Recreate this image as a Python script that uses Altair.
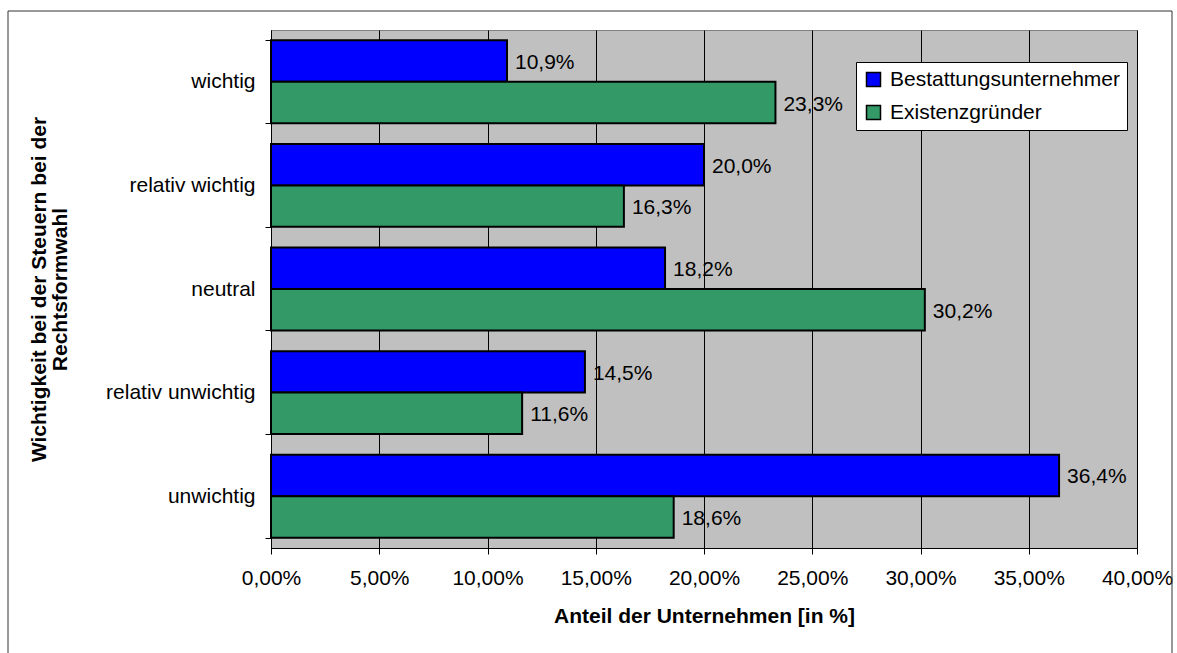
import altair as alt
import pandas as pd

# Rating categories (top to bottom) and the two survey groups
categories = ["wichtig", "relativ wichtig", "neutral", "relativ unwichtig", "unwichtig"]
series = ["Bestattungsunternehmer", "Existenzgründer"]
bestatter = [10.9, 20.0, 18.2, 14.5, 36.4]
gruender = [23.3, 16.3, 30.2, 11.6, 18.6]
x_ticks = [0, 5, 10, 15, 20, 25, 30, 35, 40]

rows = []
for cat, b, g in zip(categories, bestatter, gruender):
    rows.append({"Kategorie": cat, "Reihe": series[0], "Wert": b})
    rows.append({"Kategorie": cat, "Reihe": series[1], "Wert": g})
df = pd.DataFrame(rows)

FONT = "Liberation Sans"
FS = 21

y_enc = alt.Y(
    "Kategorie:N",
    sort=categories,
    scale=alt.Scale(paddingInner=0.2, paddingOuter=0.1),
    axis=alt.Axis(
        title=["Wichtigkeit bei der Steuern bei der", "Rechtsformwahl"],
        titleFont=FONT, titleFontSize=FS, titleFontWeight="bold", titleColor="black",
        titleX=-232, titleY=259, titleAngle=270, titleAlign="center",
        titleBaseline="middle", titleLineHeight=21,
        tickBand="extent", tickSize=6, tickColor="black",
        domainColor="black", labelFont=FONT, labelFontSize=FS, labelColor="black",
        labelPadding=10, labelLimit=400, grid=False,
    ),
)
x_enc = alt.X(
    "Wert:Q",
    scale=alt.Scale(domain=[0, 40], nice=False),
    axis=alt.Axis(
        values=x_ticks,
        labelExpr="replace(format(datum.value, '.2f'), '.', ',') + '%'",
        labelFlush=False,
        title="Anteil der Unternehmen [in %]",
        titleFont=FONT, titleFontSize=FS, titleFontWeight="bold", titleColor="black",
        titlePadding=17,
        grid=True, gridColor="black", gridOpacity=1, gridWidth=1,
        tickSize=6, tickColor="black", domainColor="black",
        labelFont=FONT, labelFontSize=FS, labelColor="black", labelPadding=13,
    ),
)
yoff = alt.YOffset("Reihe:N", sort=series, scale=alt.Scale(paddingInner=0, paddingOuter=0))

bars = alt.Chart(df).mark_bar(stroke="black", strokeWidth=2).encode(
    y=y_enc,
    x=x_enc,
    yOffset=yoff,
    color=alt.Color(
        "Reihe:N",
        sort=series,
        scale=alt.Scale(domain=series, range=["#0000FF", "#339966"]),
        legend=alt.Legend(
            title=None, orient="none", legendX=585, legendY=32,
            fillColor="white", strokeColor="black", padding=7,
            symbolType="square", symbolSize=196, symbolStrokeColor="black",
            symbolStrokeWidth=1.5, labelFont=FONT, labelFontSize=FS,
            labelColor="black", rowPadding=11, labelOffset=6, labelLimit=400,
        ),
    ),
)

labels = alt.Chart(df).transform_calculate(
    label="replace(format(datum.Wert, '.1f'), '.', ',') + '%'"
).mark_text(
    align="left", baseline="middle", dx=8, dy=2, font=FONT, fontSize=FS, color="black"
).encode(
    y=alt.Y("Kategorie:N", sort=categories),
    x=alt.X("Wert:Q"),
    yOffset=alt.YOffset("Reihe:N", sort=series),
    text="label:N",
)

frame = alt.Chart(pd.DataFrame({"f": [0]})).mark_rect(
    fillOpacity=0, stroke="#333333", strokeWidth=1
).encode(
    x=alt.value(-263), x2=alt.value(901), y=alt.value(-19), y2=alt.value(650)
)

chart = alt.layer(frame, bars, labels).properties(
    width=866,
    height=518,
    autosize=alt.AutoSizeParams(type="none"),
    padding={"left": 271, "top": 30, "right": 40, "bottom": 105},
    background="white",
).configure_view(
    fill="#C0C0C0", stroke="#808080", strokeWidth=1
)

chart.save("out.html", embed_options={"renderer": "svg", "actions": False})
